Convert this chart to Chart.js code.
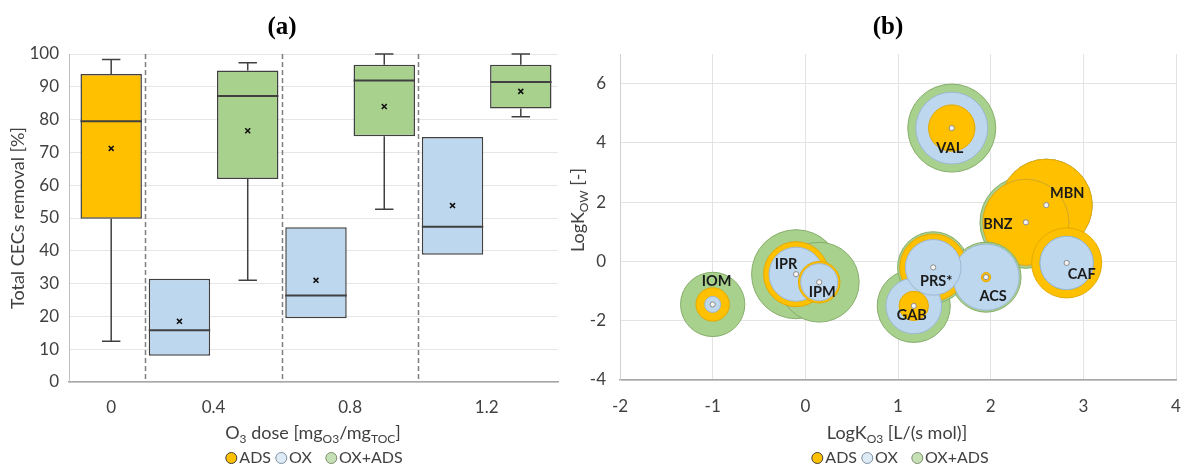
<!DOCTYPE html>
<html><head><meta charset="utf-8"><title>CECs removal</title>
<script src="https://cdn.jsdelivr.net/npm/chart.js@4.4.1/dist/chart.umd.min.js"></script>
<style>
html,body{margin:0;padding:0;background:#fff;}
#wrap{position:relative;width:1182px;height:466px;overflow:hidden;font-family:Lato,'Open Sans',sans-serif;color:#404040;}
#cL{position:absolute;left:0;top:0;}
#cR{position:absolute;left:560px;top:0;}
.t{position:absolute;white-space:nowrap;transform:translate(-50%,-50%);line-height:1;}
.ttl{font-family:'Liberation Serif','Times New Roman',serif;font-weight:bold;font-size:25px;color:#000;}
.axt{font-size:18px;}
.axt sub{font-size:12px;vertical-align:-4px;line-height:0;}
.rot{transform:translate(-50%,-50%) rotate(-90deg);}
.leg{font-size:16px;}
.mk{display:inline-block;box-sizing:border-box;width:12px;height:12px;border-radius:50%;border:1.5px solid #404040;vertical-align:-1px;margin-right:2px;}
.gap{display:inline-block;width:9px;}
</style></head><body>
<div id="wrap">
<canvas id="cL" width="560" height="466"></canvas>
<canvas id="cR" width="622" height="466"></canvas>
<div class="t ttl" style="left:282px;top:25px">(a)</div>
<div class="t ttl" style="left:888px;top:25px">(b)</div>
<div class="t axt" style="left:313px;top:432px">O<sub>3</sub> dose [mg<sub>O3</sub>/mg<sub>TOC</sub>]</div>
<div class="t leg" style="left:314px;top:457px"><span class="mk" style="background:#FFC000"></span>ADS <span class="mk" style="background:#DDEBF7;border-color:#7f8f9f"></span>OX<span class="gap"></span> <span class="mk" style="background:#C5E0B4;border-color:#7f8f70"></span>OX+ADS</div>
<div class="t axt" style="left:897px;top:432px">LogK<sub>O3</sub> [L/(s mol)]</div>
<div class="t leg" style="left:900px;top:457px"><span class="mk" style="background:#FFC000"></span>ADS <span class="mk" style="background:#DDEBF7;border-color:#7f8f9f"></span>OX<span class="gap"></span> <span class="mk" style="background:#C5E0B4;border-color:#7f8f70"></span>OX+ADS</div>
<div class="t axt rot" style="left:577px;top:210px">LogK<sub>OW</sub> [-]</div>
</div>
<script>
// ---------- Panel (a): box plots ----------
const doseLabels = ['0', '0.4', '0.8', '1.2'];
const seriesNames = ['ADS', 'OX', 'OX+ADS'];
const boxDose   = ['0', '0.4', '0.4', '0.8', '0.8', '1.2', '1.2'];
const boxSeries = ['ADS', 'OX', 'OX+ADS', 'OX', 'OX+ADS', 'OX', 'OX+ADS'];
const boxMin    = [12.4, 8.0, 31.0, 19.4, 52.7, 38.8, 80.9];
const boxQ1     = [49.8, 8.0, 61.9, 19.4, 74.9, 38.8, 83.4];
const boxMedian = [79.5, 15.8, 87.2, 26.4, 91.9, 47.3, 91.5];
const boxQ3     = [93.9, 31.5, 95.0, 47.2, 96.7, 74.7, 96.7];
const boxMax    = [98.3, 31.5, 97.3, 47.2, 100, 74.7, 100];
const boxMean   = [71.2, 18.5, 76.6, 31.0, 84.0, 53.8, 88.6];

// ---------- Panel (b): bubbles ----------
const compounds    = ['IOM', 'IPR', 'IPM', 'GAB', 'PRS*', 'ACS', 'VAL', 'BNZ', 'MBN', 'CAF'];
const logKO3       = [-1.00, -0.10, 0.15, 1.17, 1.38, 1.95, 1.58, 2.38, 2.60, 2.82];
const logKOW       = [-1.45, -0.43, -0.70, -1.50, -0.20, -0.53, 4.50, 1.32, 1.90, -0.05];
const removalADS   = [13, 49, 20, 10, 52, 1, 25, 86, 98, 57];
const removalOX    = [3, 34, 16, 36, 36, 51, 60, 86, 98, 33];
const removalOXADS = [48, 92, 74, 62, 59, 57, 90, 98, 98, 33];

// ---------- styles ----------
const fillColor = {'ADS': '#FFC000', 'OX': '#BDD7EE', 'OX+ADS': '#A9D18E'};
const edgeColor = {'ADS': '#E3AA00', 'OX': '#9DB8D4', 'OX+ADS': '#86AD6B'};
const FONT = 'Lato';
const TXT = '#404040';
Chart.defaults.font.family = FONT;

// ---- build panel (a) ----
const slots = boxDose.map((_, i) => i);
const groupPos = doseLabels.map(d => {
  const s = slots.filter(i => boxDose[i] === d);
  return s.reduce((a, b) => a + b, 0) / s.length;
});
const sepPos = doseLabels.slice(0, -1).map(d => Math.max(...slots.filter(i => boxDose[i] === d)) + 0.5);

const boxSets = seriesNames.map(s => ({
  type: 'bar', label: s, order: 1, grouped: false,
  data: slots.filter(i => boxSeries[i] === s).map(i => ({x: i, y: [boxQ1[i], boxQ3[i]]})),
  backgroundColor: fillColor[s], borderColor: '#404040', borderWidth: 1.5, borderSkipped: false,
  categoryPercentage: 1, barPercentage: 0.9
}));
const meanSet = {
  type: 'scatter', label: 'mean', order: 0,
  data: slots.map(i => ({x: i, y: boxMean[i]})),
  pointStyle: 'crossRot', pointRadius: 3.5, borderColor: '#111', backgroundColor: '#111', borderWidth: 1.6
};

const boxExtras = {
  id: 'boxExtras',
  beforeDatasetsDraw(chart) {
    const {ctx, chartArea: a, scales: {x}} = chart;
    ctx.save();
    ctx.strokeStyle = '#7F7F7F'; ctx.lineWidth = 1.5; ctx.setLineDash([5, 3]);
    sepPos.forEach(s => {
      const px = Math.round(x.getPixelForValue(s)) + 0.5;
      ctx.beginPath(); ctx.moveTo(px, a.top); ctx.lineTo(px, a.bottom); ctx.stroke();
    });
    ctx.restore();
  },
  afterDatasetDraw(chart, args) {
    const meta = args.meta;
    if (meta.type !== 'bar') return;
    const {ctx, scales: {y}} = chart;
    const ds = chart.data.datasets[args.index];
    ctx.save();
    ctx.strokeStyle = '#404040';
    meta.data.forEach((el, j) => {
      const i = ds.data[j].x;
      const half = el.width / 2;
      const cap = el.width * 0.15;
      const ym = y.getPixelForValue(boxMedian[i]);
      ctx.lineWidth = 2;
      ctx.beginPath(); ctx.moveTo(el.x - half, ym); ctx.lineTo(el.x + half, ym); ctx.stroke();
      ctx.lineWidth = 1.5;
      if (boxMax[i] > boxQ3[i]) {
        const y1 = y.getPixelForValue(boxQ3[i]), y2 = y.getPixelForValue(boxMax[i]);
        ctx.beginPath(); ctx.moveTo(el.x, y1); ctx.lineTo(el.x, y2);
        ctx.moveTo(el.x - cap, y2); ctx.lineTo(el.x + cap, y2); ctx.stroke();
      }
      if (boxMin[i] < boxQ1[i]) {
        const y1 = y.getPixelForValue(boxQ1[i]), y2 = y.getPixelForValue(boxMin[i]);
        ctx.beginPath(); ctx.moveTo(el.x, y1); ctx.lineTo(el.x, y2);
        ctx.moveTo(el.x - cap, y2); ctx.lineTo(el.x + cap, y2); ctx.stroke();
      }
    });
    ctx.restore();
  }
};

new Chart(document.getElementById('cL'), {
  type: 'bar',
  data: {datasets: [...boxSets, meanSet]},
  plugins: [boxExtras],
  options: {
    responsive: false, animation: false, events: [],
    layout: {autoPadding: false, padding: {top: 54, right: 2, bottom: 0, left: 0}},
    plugins: {legend: {display: false}, tooltip: {enabled: false}},
    scales: {
      x: {
        type: 'linear', min: -0.618, max: 6.545, offset: false,
        afterBuildTicks: ax => { ax.ticks = groupPos.map(v => ({value: v})); },
        ticks: {callback: (v, i) => doseLabels[i], autoSkip: false, maxRotation: 0, padding: 15, color: TXT, font: {size: 17}},
        grid: {display: false, drawTicks: false},
        border: {display: true, color: '#A6A6A6', width: 1.5},
        afterFit: ax => { ax.height = 84; ax.paddingLeft = 0; ax.paddingRight = 0; }
      },
      y: {
        min: 0, max: 100,
        ticks: {stepSize: 10, padding: 10, color: TXT, font: {size: 17}},
        grid: {color: '#E6E6E6', drawTicks: false},
        border: {display: true, color: '#BFBFBF', width: 1},
        title: {display: true, text: 'Total CECs removal [%]', color: TXT, font: {size: 18}, padding: {top: 7, bottom: 0}},
        afterFit: ax => { ax.width = 69; }
      }
    }
  }
});

// ---- build panel (b) ----
const BUBBLE_K = 4.64; // px radius per sqrt(% removal) (bubble area ~ value)
const seriesVals = {'ADS': removalADS, 'OX': removalOX, 'OX+ADS': removalOXADS};
const drawSeq = ['OX+ADS', 'OX', 'ADS'];
const pts = [];
drawSeq.forEach(s => compounds.forEach((c, i) => pts.push({x: logKO3[i], y: logKOW[i], v: seriesVals[s][i], s})));
pts.sort((a, b) => b.v - a.v);

const labelOffset = {
  'IOM': [4, -23], 'IPR': [-10, -10], 'IPM': [3, 10], 'GAB': [-2, 9], 'PRS*': [3, 14],
  'ACS': [7, 19], 'VAL': [-2, 20], 'BNZ': [-28, 2], 'MBN': [21, -12], 'CAF': [15, 11]
};
const bubbleLabels = {
  id: 'bubbleLabels',
  afterDatasetsDraw(chart) {
    const {ctx, scales: {x, y}} = chart;
    ctx.save();
    ctx.font = 'bold 14.5px ' + FONT;
    ctx.fillStyle = '#1A1A1A';
    ctx.textAlign = 'center'; ctx.textBaseline = 'middle';
    compounds.forEach((c, i) => {
      const o = labelOffset[c] || [0, 0];
      ctx.fillText(c, x.getPixelForValue(logKO3[i]) + o[0], y.getPixelForValue(logKOW[i]) + o[1]);
    });
    ctx.restore();
  }
};

new Chart(document.getElementById('cR'), {
  type: 'bubble',
  data: {
    datasets: [
      {
        label: 'removal', order: 1,
        data: pts.map(p => ({x: p.x, y: p.y, r: BUBBLE_K * Math.sqrt(p.v)})),
        backgroundColor: pts.map(p => fillColor[p.s]),
        borderColor: pts.map(p => edgeColor[p.s]),
        borderWidth: 1
      },
      {
        label: 'centre', order: 0,
        data: compounds.map((c, i) => ({x: logKO3[i], y: logKOW[i]})),
        radius: 2.6, backgroundColor: '#F4F4F4', borderColor: '#8C8C8C', borderWidth: 1
      }
    ]
  },
  plugins: [bubbleLabels],
  options: {
    responsive: false, animation: false, events: [],
    layout: {autoPadding: false, padding: {top: 54, right: 6, bottom: 0, left: 0}},
    plugins: {legend: {display: false}, tooltip: {enabled: false}},
    scales: {
      x: {
        type: 'linear', min: -2, max: 4,
        ticks: {stepSize: 1, padding: 16, color: TXT, font: {size: 17}},
        grid: {color: '#E3E3E3', drawTicks: false},
        border: {display: true, color: '#A6A6A6', width: 1.5},
        afterFit: ax => { ax.height = 86; ax.paddingLeft = 0; ax.paddingRight = 0; }
      },
      y: {
        type: 'linear', min: -4, max: 7,
        afterBuildTicks: ax => { ax.ticks = ax.ticks.filter(t => t.value % 2 === 0); },
        ticks: {stepSize: 2, padding: 14, color: TXT, font: {size: 17}},
        grid: {color: '#E3E3E3', drawTicks: false},
        border: {display: true, color: '#D0D0D0', width: 1},
        afterFit: ax => { ax.width = 60; ax.paddingTop = 0; ax.paddingBottom = 0; }
      }
    }
  }
});
</script>
</body></html>
